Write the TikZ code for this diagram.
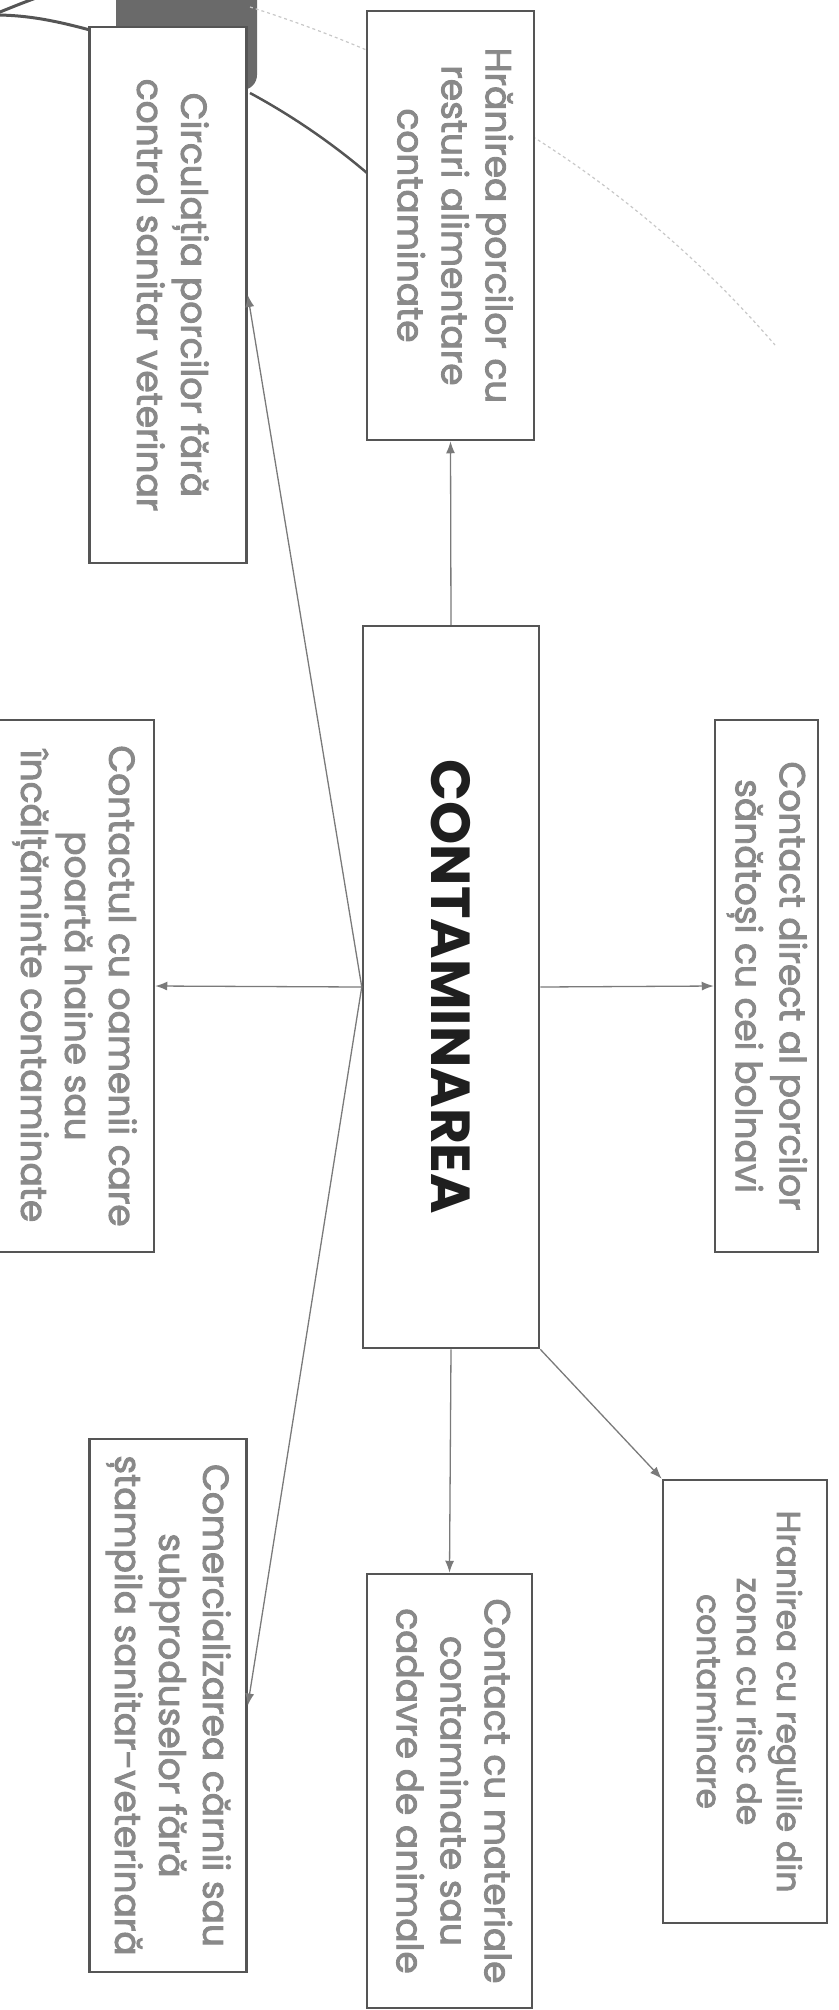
\documentclass[tikz,border=0pt]{standalone}
\usepackage{fontspec}
\setmainfont{Poppins}
\newfontfamily\boxfont{Poppins}[FakeBold=2.5]
\usepackage{graphicx}
\usetikzlibrary{arrows.meta,positioning,calc}
\definecolor{framegrey}{HTML}{555555}
\definecolor{textgrey}{HTML}{898989}
\definecolor{arrowgrey}{HTML}{7A7A7A}
\definecolor{shadegrey}{HTML}{6A6A6A}
\definecolor{arcgrey}{HTML}{C8C8C8}
\newcommand{\vlines}[1]{\rotatebox{-90}{\begin{tabular}{@{}c@{}}#1\end{tabular}}}

\begin{document}
\begin{tikzpicture}[
    x=1pt, y=-1pt,
    causebox/.style={rectangle, draw=framegrey, line width=2.5pt, fill=white, inner sep=0pt, text=textgrey, font=\boxfont\fontsize{36}{44}\selectfont},
    smallbox/.style={causebox, font=\boxfont\fontsize{33}{40}\selectfont},
    mainbox/.style={causebox, text=black!88, font=\fontsize{55}{60}\selectfont\bfseries},
    link/.style={draw=arrowgrey, line width=1.3pt, -{Latex[length=12pt,width=9pt]}}
    ]
    \useasboundingbox (0,0) rectangle (838,2010);
    \clip (0,0) rectangle (838,2010);

    % Background of the slide
    \fill[shadegrey, rounded corners=15pt] (116,-30) rectangle (257,90);
    \draw[arcgrey, line width=1.2pt, dashed] (250,7) .. controls (480,80) and (650,200) .. (775,345);
    \draw[framegrey, line width=2.5pt] (250,93) .. controls (300,120) and (340,150) .. (367,173);
    \draw[framegrey, line width=3pt] (-5,15) .. controls (30,15) and (60,22) .. (90,30);
    \draw[framegrey, line width=3pt] (-5,14) .. controls (10,8) and (22,3) .. (36,-2);

    %Nodes
    \node[mainbox, minimum width=176pt, minimum height=722pt] (cont) at (451,987) {\rotatebox{-90}{CONTAMINAREA}};
    \node[causebox, minimum width=167pt, minimum height=429pt] (hran) at (450.5,225.5) {\vlines{Hrănirea porcilor cu\\ resturi alimentare\\ contaminate}};
    \node[causebox, minimum width=157pt, minimum height=536pt] (circ) at (168,295) {\vlines{Circulația porcilor fără\\ control sanitar veterinar}};
    \node[causebox, minimum width=103pt, minimum height=532pt] (direct) at (766.5,986) {\vlines{Contact direct al porcilor\\ sănătoși cu cei bolnavi}};
    \node[causebox, minimum width=160pt, minimum height=532pt] (oameni) at (74,986) {\vlines{Contactul cu oamenii care\\ poartă haine sau\\ încălțăminte contaminate}};
    \node[smallbox, minimum width=164pt, minimum height=443pt] (regul) at (745,1701.5) {\vlines{Hranirea cu regulile din\\ zona cu risc de\\ contaminare}};
    \node[causebox, minimum width=165pt, minimum height=434pt] (mater) at (449.5,1791) {\vlines{Contact cu materiale\\ contaminate sau\\ cadavre de animale}};
    \node[causebox, minimum width=157pt, minimum height=533pt] (comerc) at (168,1705.5) {\vlines{Comercializarea cărnii sau\\ subproduselor fără\\ ștampila sanitar-veterinară}};

    %Lines
    \draw[link] (cont.north) -- (hran.south);
    \draw[link] (cont.east) -- (direct.west);
    \draw[link] (cont.west) -- (oameni.east);
    \draw[link] (cont.west) -- (circ.east);
    \draw[link] (cont.west) -- (comerc.east);
    \draw[link] (cont.south) -- (mater.north);
    \draw[link] (cont.south east) -- (regul.north west);
\end{tikzpicture}
\end{document}
